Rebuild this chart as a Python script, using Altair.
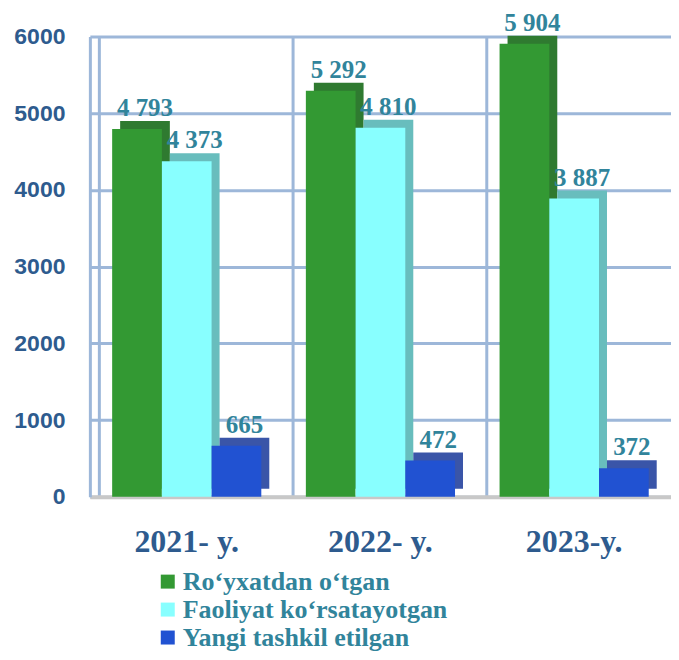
import altair as alt
import pandas as pd

years = ["2021- y.", "2022- y.", "2023-y."]
series = ["Ro‘yxatdan o‘tgan", "Faoliyat ko‘rsatayotgan", "Yangi tashkil etilgan"]
registered = [4793, 5292, 5904]
active = [4373, 4810, 3887]
new_orgs = [665, 472, 372]
y_ticks = [0, 1000, 2000, 3000, 4000, 5000, 6000]

main_colors = ["#339933", "#88FFFF", "#2152D2"]
side_colors = ["#2F7A30", "#68BDBD", "#3A55A8"]

rows = []
for s, vals in zip(series, [registered, active, new_orgs]):
    for yr, v in zip(years, vals):
        rows.append({"year": yr, "series": s, "value": v,
                     "label": f"{v:,}".replace(",", " ")})
df = pd.DataFrame(rows)

axis_blue = "#2E5B8E"
label_teal = "#31849B"
grid_col = "#9DB7D9"

W, H = 582, 461
P_IN, P_OUT = 0.23, 0.115
step = W / (len(years) - P_IN + 2 * P_OUT)
bandw = step * (1 - P_IN)
depth = 8

x = alt.X("year:N", sort=years,
          scale=alt.Scale(paddingInner=P_IN, paddingOuter=P_OUT),
          axis=alt.Axis(title=None, labelAngle=0, labelFont="Liberation Serif",
                        labelFontSize=32, labelFontWeight="bold", labelColor=axis_blue,
                        labelPadding=30, ticks=False, grid=True, bandPosition=-0.087,
                        gridColor=grid_col, gridWidth=3, domainColor="#C8C8C8",
                        domainWidth=4))
y = alt.Y("value:Q", scale=alt.Scale(domain=[0, 6000]),
          axis=alt.Axis(values=y_ticks, format="d", title=None, labelFont="Liberation Sans",
                        labelFontSize=23, labelFontWeight="bold", labelColor=axis_blue,
                        labelPadding=25, ticks=False, gridColor=grid_col, gridWidth=3,
                        domainColor=grid_col, domainWidth=3))

xo_main = alt.XOffset("series:N", sort=series,
                      scale=alt.Scale(type="band", domain=series, paddingInner=0,
                                      paddingOuter=0, range=[0, bandw]))
xo_side = alt.XOffset("series:N", sort=series,
                      scale=alt.Scale(type="band", domain=series, paddingInner=0,
                                      paddingOuter=0, range=[depth, bandw + depth]))

side = alt.Chart(df).mark_bar(yOffset=-depth).encode(
    x=x, xOffset=xo_side, y=y,
    color=alt.Color("series:N", sort=series,
                    scale=alt.Scale(domain=series, range=side_colors), legend=None))

bars = alt.Chart(df).mark_bar(opacity=1).encode(
    x=x, xOffset=xo_main, y=y,
    color=alt.Color("series:N", sort=series,
                    scale=alt.Scale(domain=series, range=main_colors),
                    legend=alt.Legend(title=None, orient="none", legendX=65, legendY=533,
                                      symbolType="square", symbolSize=196,
                                      symbolStrokeWidth=0, labelFont="Liberation Serif",
                                      labelFontSize=26, labelFontWeight="bold",
                                      labelColor=label_teal, rowPadding=2,
                                      labelOffset=2, labelLimit=400)))

text = alt.Chart(df).mark_text(baseline="alphabetic", dy=-13, dx=8, font="Liberation Serif",
                               fontSize=25, fontWeight="bold", color=label_teal).encode(
    x=x, xOffset=xo_main, y=y, text="label:N")

chart = alt.layer(side, bars, text).resolve_scale(
    color="independent", xOffset="independent").properties(
    width=W, height=H,
    autosize=alt.AutoSizeParams(type="none"),
    padding={"left": 82, "top": 28, "right": 0, "bottom": 155},
).configure_view(stroke=None)

chart.save("out.html", embed_options={"renderer": "svg", "actions": False})
